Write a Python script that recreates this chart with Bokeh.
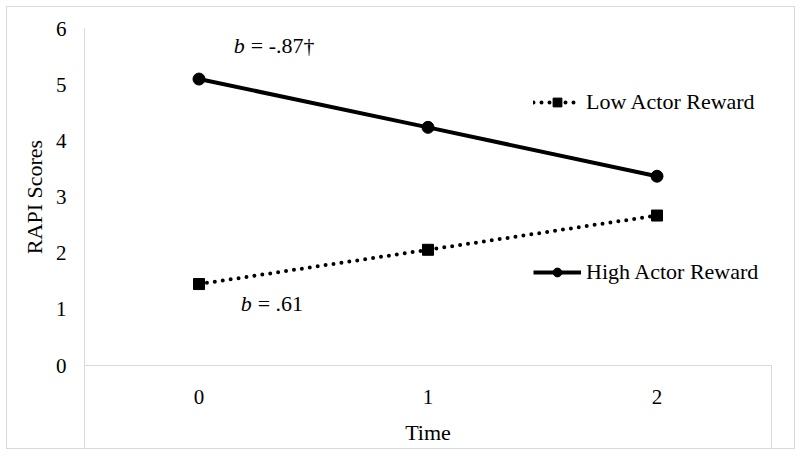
from bokeh.plotting import figure
from bokeh.models import (Range1d, FixedTicker, Legend, LegendItem, Label)
from bokeh.embed import file_html
from bokeh.resources import INLINE

# ---- data ----
time_points = [0, 1, 2]
time_labels = ["0", "1", "2"]
low_reward = [1.45, 2.06, 2.67]
high_reward = [5.10, 4.24, 3.37]
y_ticks = [0, 1, 2, 3, 4, 5, 6]
series_names = ["Low Actor Reward", "High Actor Reward"]
slope_low = "= .61"
slope_high = "= -.87\u2020"

FONT = "Liberation Serif"
GRAY = "#d9d9d9"

p = figure(width=787, height=441, output_backend="svg", toolbar_location=None,
           x_range=Range1d(-0.5, 2.5), y_range=Range1d(0, 6),
           frame_width=687, frame_height=337,
           min_border_left=77, min_border_right=23, min_border_top=21, min_border_bottom=83,
           styles={"border": "1px solid " + GRAY})
p.margin = (6, 0, 0, 6)
p.xgrid.visible = False
p.ygrid.visible = False
p.outline_line_color = None
p.background_fill_color = "white"
p.border_fill_color = "white"

# x axis
xa = p.xaxis[0]
xa.ticker = FixedTicker(ticks=time_points, minor_ticks=[-0.5, 2.5])
xa.major_label_overrides = {t: l for t, l in zip(time_points, time_labels)}
xa.major_tick_out = 0
xa.major_tick_in = 0
xa.minor_tick_in = 0
xa.minor_tick_out = 83
xa.minor_tick_line_color = GRAY
xa.axis_line_color = GRAY
xa.major_label_standoff = -59
xa.major_label_text_font = FONT
xa.major_label_text_font_size = "21px"
xa.major_label_text_color = "black"
xa.axis_label = "Time"
xa.axis_label_text_font = FONT
xa.axis_label_text_font_size = "22px"
xa.axis_label_text_font_style = "normal"
xa.axis_label_text_color = "black"
xa.axis_label_standoff = 13

# y axis
ya = p.yaxis[0]
ya.ticker = FixedTicker(ticks=y_ticks)
ya.major_tick_out = 0
ya.major_tick_in = 0
ya.minor_tick_out = 0
ya.minor_tick_in = 0
ya.axis_line_color = GRAY
ya.major_label_standoff = 18
ya.major_label_text_font = FONT
ya.major_label_text_font_size = "21px"
ya.major_label_text_color = "black"
ya.axis_label = "RAPI Scores"
ya.axis_label_text_font = FONT
ya.axis_label_text_font_size = "22px"
ya.axis_label_text_font_style = "normal"
ya.axis_label_text_color = "black"
ya.axis_label_standoff = 6

# series
low_line = p.line(time_points, low_reward, line_color="black", line_width=4,
                  line_dash="0 8", line_cap="round")
low_pts = p.scatter(time_points, low_reward, marker="square", size=11,
                    fill_color="black", line_color="black")
high_line = p.line(time_points, high_reward, line_color="black", line_width=4)
high_pts = p.scatter(time_points, high_reward, marker="circle", size=12,
                     fill_color="black", line_color="black")

def make_legend(name, renderers, loc):
    lg = Legend(items=[LegendItem(label=name, renderers=renderers)],
                location=loc, orientation="vertical",
                glyph_width=48, glyph_height=22, label_height=22,
                label_standoff=5, padding=0, margin=0, spacing=0,
                border_line_color=None, background_fill_alpha=0,
                label_text_font=FONT, label_text_font_size="22px",
                label_text_color="black")
    return lg

p.add_layout(make_legend(series_names[0], [low_line, low_pts], (449, 250)))
p.add_layout(make_legend(series_names[1], [high_line, high_pts], (449, 80)))

# slope annotations
def slope_label(x, y, rest):
    p.add_layout(Label(x=x, y=y, text="b", text_font=FONT, text_font_size="22px",
                       text_font_style="italic", text_baseline="middle",
                       text_color="black"))
    p.add_layout(Label(x=x, y=y, x_offset=17, text=rest, text_font=FONT,
                       text_font_size="22px", text_baseline="middle",
                       text_color="black"))

slope_label(0.152, 5.70, slope_high)
slope_label(0.182, 1.10, slope_low)

open("out.html", "w").write(file_html(p, INLINE))
